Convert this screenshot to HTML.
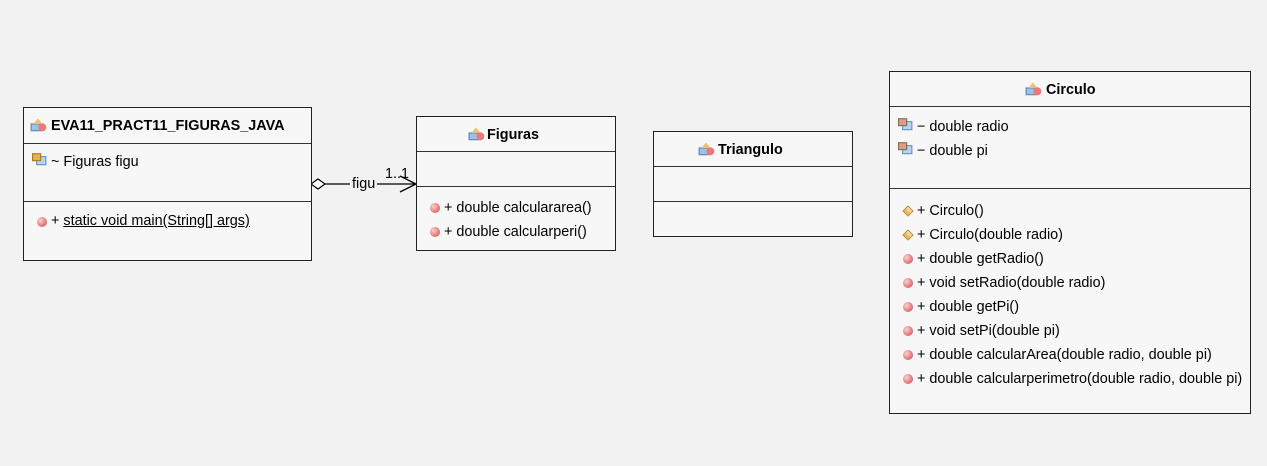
<!DOCTYPE html>
<html><head><meta charset="utf-8"><style>
body{margin:0;width:1267px;height:466px;background:#f2f2f2;position:relative;overflow:hidden;font-family:"Liberation Sans",Arial,sans-serif;font-size:14.4px;color:#000}
.box{position:absolute;background:#f7f7f7;border:1.5px solid #222;box-sizing:border-box}
.hl{position:absolute;left:0;right:0;height:0;border-top:1.5px solid #333}
.t{position:absolute;white-space:nowrap}
.b{font-weight:bold}
.m{position:absolute;width:10px;height:10px;border-radius:50%;background:radial-gradient(circle at 35% 35%,#fbd0d0,#e06b6b 70%,#b44);}
.c{position:absolute;width:8px;height:8px;transform:rotate(45deg);background:linear-gradient(#fde7b0,#e3a94a);border:1px solid #b9873a;box-sizing:border-box}
.f{position:absolute;width:15px;height:13px}
.ci{position:absolute;width:18px;height:15px}
</style></head><body>

<svg width="1267" height="466" style="position:absolute;left:0;top:0">
<line x1="325" y1="184" x2="416" y2="184" stroke="#000" stroke-width="1.3"/>
<polygon points="311,184 318,179 325,184 318,189" fill="#fff" stroke="#000" stroke-width="1.2"/>
<polyline points="400,176 416,184 400,192" fill="none" stroke="#000" stroke-width="1.3"/>
</svg>
<div class="t" style="left:350px;top:176px;background:#f2f2f2;padding:0 2px">figu</div>
<div class="t" style="left:385px;top:166px">1..1</div>

<!-- EVA -->
<div class="box" style="left:23px;top:107px;width:289px;height:154px">
 <svg class="ci" style="left:6px;top:9px" viewBox="0 0 16 13"><rect x="1" y="6" width="10" height="6" fill="#9cc3e6" stroke="#5a86b5"/><polygon points="3,6 7,1 11,6" fill="#f0c070"/><circle cx="11" cy="9" r="3.5" fill="#e77"/></svg>
 <div class="t b" style="left:27px;top:10px">EVA11_PRACT11_FIGURAS_JAVA</div>
 <div class="hl" style="top:35px"></div>
 <svg class="f" style="left:8px;top:45px" viewBox="0 0 13 11"><rect x="4" y="3" width="8" height="7" fill="#b8d4ee" stroke="#6a94c0"/><rect x="0.5" y="0.5" width="7" height="6" fill="#e6b44c" stroke="#a87a2a"/></svg>
 <div class="t" style="left:27px;top:46px">~ Figuras figu</div>
 <div class="hl" style="top:93px"></div>
 <div class="m" style="left:13px;top:109px"></div>
 <div class="t" style="left:27px;top:105px">+ <u>static void main(String[] args)</u></div>
</div>

<!-- Figuras -->
<div class="box" style="left:416px;top:116px;width:200px;height:135px">
 <svg class="ci" style="left:51px;top:9px" viewBox="0 0 16 13"><rect x="1" y="6" width="10" height="6" fill="#9cc3e6" stroke="#5a86b5"/><polygon points="3,6 7,1 11,6" fill="#f0c070"/><circle cx="11" cy="9" r="3.5" fill="#e77"/></svg>
 <div class="t b" style="left:70px;top:10px">Figuras</div>
 <div class="hl" style="top:34px"></div>
 <div class="hl" style="top:69px"></div>
 <div class="m" style="left:13px;top:86px"></div>
 <div class="t" style="left:27px;top:83px">+ double calculararea()</div>
 <div class="m" style="left:13px;top:110px"></div>
 <div class="t" style="left:27px;top:107px">+ double calcularperi()</div>
</div>

<!-- Triangulo -->
<div class="box" style="left:653px;top:131px;width:200px;height:106px">
 <svg class="ci" style="left:44px;top:9px" viewBox="0 0 16 13"><rect x="1" y="6" width="10" height="6" fill="#9cc3e6" stroke="#5a86b5"/><polygon points="3,6 7,1 11,6" fill="#f0c070"/><circle cx="11" cy="9" r="3.5" fill="#e77"/></svg>
 <div class="t b" style="left:64px;top:10px">Triangulo</div>
 <div class="hl" style="top:34px"></div>
 <div class="hl" style="top:69px"></div>
</div>

<!-- Circulo -->
<div class="box" style="left:889px;top:71px;width:362px;height:343px">
 <svg class="ci" style="left:135px;top:9px" viewBox="0 0 16 13"><rect x="1" y="6" width="10" height="6" fill="#9cc3e6" stroke="#5a86b5"/><polygon points="3,6 7,1 11,6" fill="#f0c070"/><circle cx="11" cy="9" r="3.5" fill="#e77"/></svg>
 <div class="t b" style="left:156px;top:10px">Circulo</div>
 <div class="hl" style="top:34px"></div>
 <svg class="f" style="left:8px;top:46px" viewBox="0 0 13 11"><rect x="4" y="3" width="8" height="7" fill="#b8d4ee" stroke="#6a94c0"/><rect x="0.5" y="0.5" width="7" height="6" fill="#d9a08a" stroke="#8a6a5a"/></svg>
 <div class="t" style="left:27px;top:47px">− double radio</div>
 <svg class="f" style="left:8px;top:70px" viewBox="0 0 13 11"><rect x="4" y="3" width="8" height="7" fill="#b8d4ee" stroke="#6a94c0"/><rect x="0.5" y="0.5" width="7" height="6" fill="#d9a08a" stroke="#8a6a5a"/></svg>
 <div class="t" style="left:27px;top:71px">− double pi</div>
 <div class="hl" style="top:116px"></div>
 <div class="c" style="left:14px;top:135px"></div>
 <div class="t" style="left:27px;top:131px">+ Circulo()</div>
 <div class="c" style="left:14px;top:159px"></div>
 <div class="t" style="left:27px;top:155px">+ Circulo(double radio)</div>
 <div class="m" style="left:13px;top:182px"></div>
 <div class="t" style="left:27px;top:179px">+ double getRadio()</div>
 <div class="m" style="left:13px;top:206px"></div>
 <div class="t" style="left:27px;top:203px">+ void setRadio(double radio)</div>
 <div class="m" style="left:13px;top:230px"></div>
 <div class="t" style="left:27px;top:227px">+ double getPi()</div>
 <div class="m" style="left:13px;top:254px"></div>
 <div class="t" style="left:27px;top:251px">+ void setPi(double pi)</div>
 <div class="m" style="left:13px;top:278px"></div>
 <div class="t" style="left:27px;top:275px">+ double calcularArea(double radio, double pi)</div>
 <div class="m" style="left:13px;top:302px"></div>
 <div class="t" style="left:27px;top:299px">+ double calcularperimetro(double radio, double pi)</div>
</div>
</body></html>
